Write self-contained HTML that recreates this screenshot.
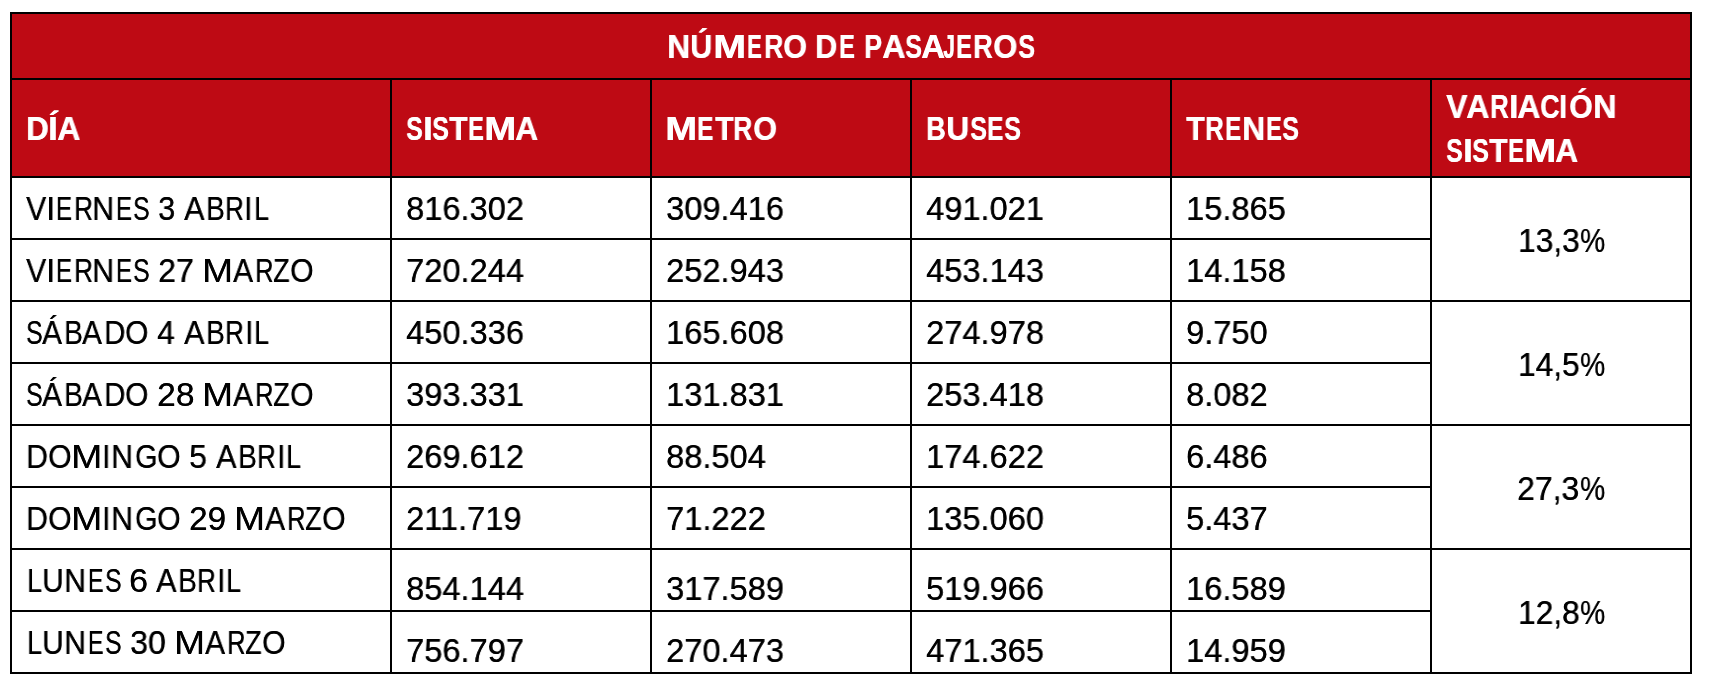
<!DOCTYPE html><html lang="es"><head><meta charset="utf-8"><title>Número de pasajeros</title><style>

html,body{margin:0;padding:0;background:#fff;}
body{width:1710px;height:686px;position:relative;overflow:hidden;font-family:"Liberation Sans",sans-serif;}
.r{position:absolute;background:#BE0A14;}
.l{position:absolute;background:#000;}
.t{position:absolute;height:80px;line-height:80px;white-space:nowrap;transform-origin:0 0;will-change:transform;}
.b{font-size:33.0px;font-weight:700;color:#fff;text-shadow:0.4px 0 0 #fff;}
.n{font-size:33.0px;font-weight:400;color:#000;text-shadow:0.3px 0 0 #000;}

</style></head><body>
<div class="r" style="left:10px;top:12px;width:1682px;height:166px"></div>
<div class="l" style="left:10px;top:12px;width:1682px;height:2px"></div>
<div class="l" style="left:10px;top:78px;width:1682px;height:2px"></div>
<div class="l" style="left:10px;top:176px;width:1682px;height:2px"></div>
<div class="l" style="left:10px;top:300px;width:1682px;height:2px"></div>
<div class="l" style="left:10px;top:424px;width:1682px;height:2px"></div>
<div class="l" style="left:10px;top:548px;width:1682px;height:2px"></div>
<div class="l" style="left:10px;top:672px;width:1682px;height:2px"></div>
<div class="l" style="left:10px;top:238px;width:1422px;height:2px"></div>
<div class="l" style="left:10px;top:362px;width:1422px;height:2px"></div>
<div class="l" style="left:10px;top:486px;width:1422px;height:2px"></div>
<div class="l" style="left:10px;top:610px;width:1422px;height:2px"></div>
<div class="l" style="left:10px;top:12px;width:2px;height:662px"></div>
<div class="l" style="left:1690px;top:12px;width:2px;height:662px"></div>
<div class="l" style="left:390px;top:78px;width:2px;height:596px"></div>
<div class="l" style="left:650px;top:78px;width:2px;height:596px"></div>
<div class="l" style="left:910px;top:78px;width:2px;height:596px"></div>
<div class="l" style="left:1170px;top:78px;width:2px;height:596px"></div>
<div class="l" style="left:1430px;top:78px;width:2px;height:596px"></div>
<div class="t b" style="left:666.85px;top:7.0px;transform:scaleX(0.9632)">N</div>
<div class="t b" style="left:690.37px;top:7.0px;transform:scaleX(0.9256)">Ú</div>
<div class="t b" style="left:712.85px;top:7.0px;transform:scaleX(1.1962)">M</div>
<div class="t b" style="left:746.87px;top:7.0px;transform:scaleX(0.6685)">E</div>
<div class="t b" style="left:763.69px;top:7.0px;transform:scaleX(0.801)">R</div>
<div class="t b" style="left:783.11px;top:7.0px;transform:scaleX(0.9256)">O</div>
<div class="t b" style="left:815.03px;top:7.0px;transform:scaleX(0.9228)">D</div>
<div class="t b" style="left:838.79px;top:7.0px;transform:scaleX(0.7103)">E</div>
<div class="t b" style="left:864.36px;top:7.0px;transform:scaleX(0.8163)">P</div>
<div class="t b" style="left:881.83px;top:7.0px;transform:scaleX(0.9783)">A</div>
<div class="t b" style="left:904.77px;top:7.0px;transform:scaleX(0.7644)">S</div>
<div class="t b" style="left:920.83px;top:7.0px;transform:scaleX(0.9828)">A</div>
<div class="t b" style="left:942.97px;top:7.0px;transform:scaleX(0.6436)">J</div>
<div class="t b" style="left:955.77px;top:7.0px;transform:scaleX(0.7155)">E</div>
<div class="t b" style="left:973.35px;top:7.0px;transform:scaleX(0.8197)">R</div>
<div class="t b" style="left:992.89px;top:7.0px;transform:scaleX(0.9383)">O</div>
<div class="t b" style="left:1017.86px;top:7.0px;transform:scaleX(0.7694)">S</div>
<div class="t b" style="left:26.04px;top:89.0px;transform:scaleX(0.9444)">D</div>
<div class="t b" style="left:48.0px;top:89.0px;transform:scaleX(1.0326)">Í</div>
<div class="t b" style="left:57.14px;top:89.0px;transform:scaleX(0.9739)">A</div>
<div class="t b" style="left:405.99px;top:89.0px;transform:scaleX(0.7495)">S</div>
<div class="t b" style="left:422.8px;top:89.0px;transform:scaleX(1.0326)">I</div>
<div class="t b" style="left:432.07px;top:89.0px;transform:scaleX(0.7595)">S</div>
<div class="t b" style="left:448.84px;top:89.0px;transform:scaleX(0.9161)">T</div>
<div class="t b" style="left:467.79px;top:89.0px;transform:scaleX(0.7103)">E</div>
<div class="t b" style="left:484.32px;top:89.0px;transform:scaleX(1.1626)">M</div>
<div class="t b" style="left:515.25px;top:89.0px;transform:scaleX(0.9605)">A</div>
<div class="t b" style="left:665.43px;top:89.0px;transform:scaleX(1.1584)">M</div>
<div class="t b" style="left:697.43px;top:89.0px;transform:scaleX(0.7364)">E</div>
<div class="t b" style="left:714.54px;top:89.0px;transform:scaleX(0.9161)">T</div>
<div class="t b" style="left:732.89px;top:89.0px;transform:scaleX(0.801)">R</div>
<div class="t b" style="left:753.11px;top:89.0px;transform:scaleX(0.9256)">O</div>
<div class="t b" style="left:926.15px;top:89.0px;transform:scaleX(0.8211)">B</div>
<div class="t b" style="left:946.19px;top:89.0px;transform:scaleX(0.9648)">U</div>
<div class="t b" style="left:969.57px;top:89.0px;transform:scaleX(0.7644)">S</div>
<div class="t b" style="left:986.83px;top:89.0px;transform:scaleX(0.7364)">E</div>
<div class="t b" style="left:1003.77px;top:89.0px;transform:scaleX(0.7644)">S</div>
<div class="t b" style="left:1185.73px;top:89.0px;transform:scaleX(0.9261)">T</div>
<div class="t b" style="left:1204.63px;top:89.0px;transform:scaleX(0.7822)">R</div>
<div class="t b" style="left:1224.54px;top:89.0px;transform:scaleX(0.7312)">E</div>
<div class="t b" style="left:1241.55px;top:89.0px;transform:scaleX(0.9632)">N</div>
<div class="t b" style="left:1265.79px;top:89.0px;transform:scaleX(0.7103)">E</div>
<div class="t b" style="left:1281.77px;top:89.0px;transform:scaleX(0.7644)">S</div>
<div class="t b" style="left:1445.55px;top:67.0px;transform:scaleX(0.9675)">V</div>
<div class="t b" style="left:1466.04px;top:67.0px;transform:scaleX(0.9739)">A</div>
<div class="t b" style="left:1489.54px;top:67.0px;transform:scaleX(0.7776)">R</div>
<div class="t b" style="left:1508.68px;top:67.0px;transform:scaleX(0.9963)">I</div>
<div class="t b" style="left:1516.84px;top:67.0px;transform:scaleX(0.9739)">A</div>
<div class="t b" style="left:1540.35px;top:67.0px;transform:scaleX(0.8126)">C</div>
<div class="t b" style="left:1559.49px;top:67.0px;transform:scaleX(0.8514)">I</div>
<div class="t b" style="left:1569.22px;top:67.0px;transform:scaleX(0.913)">Ó</div>
<div class="t b" style="left:1593.11px;top:67.0px;transform:scaleX(0.9782)">N</div>
<div class="t b" style="left:1445.99px;top:111.0px;transform:scaleX(0.7495)">S</div>
<div class="t b" style="left:1462.8px;top:111.0px;transform:scaleX(1.0326)">I</div>
<div class="t b" style="left:1472.07px;top:111.0px;transform:scaleX(0.7595)">S</div>
<div class="t b" style="left:1488.84px;top:111.0px;transform:scaleX(0.9161)">T</div>
<div class="t b" style="left:1507.79px;top:111.0px;transform:scaleX(0.7103)">E</div>
<div class="t b" style="left:1524.32px;top:111.0px;transform:scaleX(1.1626)">M</div>
<div class="t b" style="left:1555.25px;top:111.0px;transform:scaleX(0.9605)">A</div>
<div class="t n" style="left:26.02px;top:169.0px;transform:scaleX(0.9143)">V</div>
<div class="t n" style="left:45.86px;top:169.0px;transform:scaleX(0.9889)">I</div>
<div class="t n" style="left:55.72px;top:169.0px;transform:scaleX(0.7264)">E</div>
<div class="t n" style="left:73.85px;top:169.0px;transform:scaleX(0.792)">R</div>
<div class="t n" style="left:92.49px;top:169.0px;transform:scaleX(0.9238)">N</div>
<div class="t n" style="left:115.82px;top:169.0px;transform:scaleX(0.7264)">E</div>
<div class="t n" style="left:132.81px;top:169.0px;transform:scaleX(0.7534)">S</div>
<div class="t n" style="left:158.25px;top:169.0px;transform:scaleX(0.9313)">3</div>
<div class="t n" style="left:184.1px;top:169.0px;transform:scaleX(0.9264)">A</div>
<div class="t n" style="left:205.7px;top:169.0px;transform:scaleX(0.8469)">B</div>
<div class="t n" style="left:224.86px;top:169.0px;transform:scaleX(0.787)">R</div>
<div class="t n" style="left:244.4px;top:169.0px;transform:scaleX(0.9064)">I</div>
<div class="t n" style="left:253.8px;top:169.0px;transform:scaleX(0.8095)">L</div>
<div class="t n" style="left:405.81px;top:169.0px;transform:scaleX(0.9874)">816.302</div>
<div class="t n" style="left:665.81px;top:169.0px;transform:scaleX(0.9874)">309.416</div>
<div class="t n" style="left:925.81px;top:169.0px;transform:scaleX(0.9874)">491.021</div>
<div class="t n" style="left:1185.81px;top:169.0px;transform:scaleX(0.9874)">15.865</div>
<div class="t n" style="left:26.02px;top:231.0px;transform:scaleX(0.9143)">V</div>
<div class="t n" style="left:45.86px;top:231.0px;transform:scaleX(0.9889)">I</div>
<div class="t n" style="left:55.72px;top:231.0px;transform:scaleX(0.7264)">E</div>
<div class="t n" style="left:73.85px;top:231.0px;transform:scaleX(0.792)">R</div>
<div class="t n" style="left:92.49px;top:231.0px;transform:scaleX(0.9238)">N</div>
<div class="t n" style="left:115.82px;top:231.0px;transform:scaleX(0.7264)">E</div>
<div class="t n" style="left:132.81px;top:231.0px;transform:scaleX(0.7534)">S</div>
<div class="t n" style="left:158.12px;top:231.0px;transform:scaleX(0.9737)">27</div>
<div class="t n" style="left:201.74px;top:231.0px;transform:scaleX(1.1237)">M</div>
<div class="t n" style="left:233.2px;top:231.0px;transform:scaleX(0.9083)">A</div>
<div class="t n" style="left:254.89px;top:231.0px;transform:scaleX(0.7768)">R</div>
<div class="t n" style="left:273.0px;top:231.0px;transform:scaleX(0.8208)">Z</div>
<div class="t n" style="left:289.82px;top:231.0px;transform:scaleX(0.9159)">O</div>
<div class="t n" style="left:405.81px;top:231.0px;transform:scaleX(0.9874)">720.244</div>
<div class="t n" style="left:665.81px;top:231.0px;transform:scaleX(0.9874)">252.943</div>
<div class="t n" style="left:925.81px;top:231.0px;transform:scaleX(0.9874)">453.143</div>
<div class="t n" style="left:1185.81px;top:231.0px;transform:scaleX(0.9874)">14.158</div>
<div class="t n" style="left:25.61px;top:293.0px;transform:scaleX(0.7534)">S</div>
<div class="t n" style="left:42.3px;top:293.0px;transform:scaleX(0.9037)">Á</div>
<div class="t n" style="left:63.58px;top:293.0px;transform:scaleX(0.8524)">B</div>
<div class="t n" style="left:82.3px;top:293.0px;transform:scaleX(0.8992)">A</div>
<div class="t n" style="left:103.57px;top:293.0px;transform:scaleX(0.8926)">D</div>
<div class="t n" style="left:125.13px;top:293.0px;transform:scaleX(0.9072)">O</div>
<div class="t n" style="left:156.85px;top:293.0px;transform:scaleX(0.9636)">4</div>
<div class="t n" style="left:184.2px;top:293.0px;transform:scaleX(0.9264)">A</div>
<div class="t n" style="left:205.8px;top:293.0px;transform:scaleX(0.8469)">B</div>
<div class="t n" style="left:224.96px;top:293.0px;transform:scaleX(0.787)">R</div>
<div class="t n" style="left:244.5px;top:293.0px;transform:scaleX(0.9064)">I</div>
<div class="t n" style="left:253.9px;top:293.0px;transform:scaleX(0.8095)">L</div>
<div class="t n" style="left:405.81px;top:293.0px;transform:scaleX(0.9874)">450.336</div>
<div class="t n" style="left:665.81px;top:293.0px;transform:scaleX(0.9874)">165.608</div>
<div class="t n" style="left:925.81px;top:293.0px;transform:scaleX(0.9874)">274.978</div>
<div class="t n" style="left:1185.81px;top:293.0px;transform:scaleX(0.9874)">9.750</div>
<div class="t n" style="left:25.61px;top:355.0px;transform:scaleX(0.7534)">S</div>
<div class="t n" style="left:42.3px;top:355.0px;transform:scaleX(0.9037)">Á</div>
<div class="t n" style="left:63.58px;top:355.0px;transform:scaleX(0.8524)">B</div>
<div class="t n" style="left:82.3px;top:355.0px;transform:scaleX(0.8992)">A</div>
<div class="t n" style="left:103.57px;top:355.0px;transform:scaleX(0.8926)">D</div>
<div class="t n" style="left:125.13px;top:355.0px;transform:scaleX(0.9072)">O</div>
<div class="t n" style="left:156.95px;top:355.0px;transform:scaleX(1.0165)">28</div>
<div class="t n" style="left:201.74px;top:355.0px;transform:scaleX(1.1237)">M</div>
<div class="t n" style="left:233.2px;top:355.0px;transform:scaleX(0.9083)">A</div>
<div class="t n" style="left:254.89px;top:355.0px;transform:scaleX(0.7768)">R</div>
<div class="t n" style="left:273.0px;top:355.0px;transform:scaleX(0.8208)">Z</div>
<div class="t n" style="left:289.82px;top:355.0px;transform:scaleX(0.9159)">O</div>
<div class="t n" style="left:405.81px;top:355.0px;transform:scaleX(0.9874)">393.331</div>
<div class="t n" style="left:665.81px;top:355.0px;transform:scaleX(0.9874)">131.831</div>
<div class="t n" style="left:925.81px;top:355.0px;transform:scaleX(0.9874)">253.418</div>
<div class="t n" style="left:1185.81px;top:355.0px;transform:scaleX(0.9874)">8.082</div>
<div class="t n" style="left:26.0px;top:417.0px;transform:scaleX(0.9175)">D</div>
<div class="t n" style="left:47.92px;top:417.0px;transform:scaleX(0.9159)">O</div>
<div class="t n" style="left:70.72px;top:417.0px;transform:scaleX(1.1326)">M</div>
<div class="t n" style="left:102.3px;top:417.0px;transform:scaleX(0.9064)">I</div>
<div class="t n" style="left:111.4px;top:417.0px;transform:scaleX(0.9186)">N</div>
<div class="t n" style="left:134.65px;top:417.0px;transform:scaleX(0.8701)">G</div>
<div class="t n" style="left:156.82px;top:417.0px;transform:scaleX(0.9159)">O</div>
<div class="t n" style="left:188.87px;top:417.0px;transform:scaleX(0.9707)">5</div>
<div class="t n" style="left:216.3px;top:417.0px;transform:scaleX(0.9264)">A</div>
<div class="t n" style="left:237.9px;top:417.0px;transform:scaleX(0.8469)">B</div>
<div class="t n" style="left:257.06px;top:417.0px;transform:scaleX(0.787)">R</div>
<div class="t n" style="left:276.6px;top:417.0px;transform:scaleX(0.9064)">I</div>
<div class="t n" style="left:286.0px;top:417.0px;transform:scaleX(0.8095)">L</div>
<div class="t n" style="left:405.81px;top:417.0px;transform:scaleX(0.9874)">269.612</div>
<div class="t n" style="left:665.81px;top:417.0px;transform:scaleX(0.9874)">88.504</div>
<div class="t n" style="left:925.81px;top:417.0px;transform:scaleX(0.9874)">174.622</div>
<div class="t n" style="left:1185.81px;top:417.0px;transform:scaleX(0.9874)">6.486</div>
<div class="t n" style="left:26.0px;top:479.0px;transform:scaleX(0.9175)">D</div>
<div class="t n" style="left:47.92px;top:479.0px;transform:scaleX(0.9159)">O</div>
<div class="t n" style="left:70.72px;top:479.0px;transform:scaleX(1.1326)">M</div>
<div class="t n" style="left:102.3px;top:479.0px;transform:scaleX(0.9064)">I</div>
<div class="t n" style="left:111.4px;top:479.0px;transform:scaleX(0.9186)">N</div>
<div class="t n" style="left:134.65px;top:479.0px;transform:scaleX(0.8701)">G</div>
<div class="t n" style="left:156.82px;top:479.0px;transform:scaleX(0.9159)">O</div>
<div class="t n" style="left:189.07px;top:479.0px;transform:scaleX(1.008)">29</div>
<div class="t n" style="left:233.84px;top:479.0px;transform:scaleX(1.1237)">M</div>
<div class="t n" style="left:265.3px;top:479.0px;transform:scaleX(0.9083)">A</div>
<div class="t n" style="left:286.99px;top:479.0px;transform:scaleX(0.7768)">R</div>
<div class="t n" style="left:305.1px;top:479.0px;transform:scaleX(0.8208)">Z</div>
<div class="t n" style="left:321.92px;top:479.0px;transform:scaleX(0.9159)">O</div>
<div class="t n" style="left:405.81px;top:479.0px;transform:scaleX(0.9874)">211.719</div>
<div class="t n" style="left:665.81px;top:479.0px;transform:scaleX(0.9874)">71.222</div>
<div class="t n" style="left:925.81px;top:479.0px;transform:scaleX(0.9874)">135.060</div>
<div class="t n" style="left:1185.81px;top:479.0px;transform:scaleX(0.9874)">5.437</div>
<div class="t n" style="left:26.6px;top:541.0px;transform:scaleX(0.8095)">L</div>
<div class="t n" style="left:41.68px;top:541.0px;transform:scaleX(0.9082)">U</div>
<div class="t n" style="left:64.4px;top:541.0px;transform:scaleX(0.9186)">N</div>
<div class="t n" style="left:88.0px;top:541.0px;transform:scaleX(0.6991)">E</div>
<div class="t n" style="left:104.72px;top:541.0px;transform:scaleX(0.7482)">S</div>
<div class="t n" style="left:128.65px;top:541.0px;transform:scaleX(1.0298)">6</div>
<div class="t n" style="left:156.4px;top:541.0px;transform:scaleX(0.9264)">A</div>
<div class="t n" style="left:178.0px;top:541.0px;transform:scaleX(0.8469)">B</div>
<div class="t n" style="left:197.16px;top:541.0px;transform:scaleX(0.787)">R</div>
<div class="t n" style="left:216.7px;top:541.0px;transform:scaleX(0.9064)">I</div>
<div class="t n" style="left:226.1px;top:541.0px;transform:scaleX(0.8095)">L</div>
<div class="t n" style="left:405.81px;top:549.0px;transform:scaleX(0.9874)">854.144</div>
<div class="t n" style="left:665.81px;top:549.0px;transform:scaleX(0.9874)">317.589</div>
<div class="t n" style="left:925.81px;top:549.0px;transform:scaleX(0.9874)">519.966</div>
<div class="t n" style="left:1185.81px;top:549.0px;transform:scaleX(0.9874)">16.589</div>
<div class="t n" style="left:26.6px;top:603.0px;transform:scaleX(0.8095)">L</div>
<div class="t n" style="left:41.68px;top:603.0px;transform:scaleX(0.9082)">U</div>
<div class="t n" style="left:64.4px;top:603.0px;transform:scaleX(0.9186)">N</div>
<div class="t n" style="left:88.0px;top:603.0px;transform:scaleX(0.6991)">E</div>
<div class="t n" style="left:104.72px;top:603.0px;transform:scaleX(0.7482)">S</div>
<div class="t n" style="left:129.5px;top:603.0px;transform:scaleX(0.9735)">30</div>
<div class="t n" style="left:173.84px;top:603.0px;transform:scaleX(1.1237)">M</div>
<div class="t n" style="left:205.3px;top:603.0px;transform:scaleX(0.9083)">A</div>
<div class="t n" style="left:226.99px;top:603.0px;transform:scaleX(0.7768)">R</div>
<div class="t n" style="left:245.1px;top:603.0px;transform:scaleX(0.8208)">Z</div>
<div class="t n" style="left:261.92px;top:603.0px;transform:scaleX(0.9159)">O</div>
<div class="t n" style="left:405.81px;top:611.0px;transform:scaleX(0.9874)">756.797</div>
<div class="t n" style="left:665.81px;top:611.0px;transform:scaleX(0.9874)">270.473</div>
<div class="t n" style="left:925.81px;top:611.0px;transform:scaleX(0.9874)">471.365</div>
<div class="t n" style="left:1185.81px;top:611.0px;transform:scaleX(0.9874)">14.959</div>
<div class="t n" style="left:1517.51px;top:201.0px;transform:scaleX(0.9591)">13,3</div>
<div class="t n" style="left:1580.28px;top:201.0px;transform:scaleX(0.855)">%</div>
<div class="t n" style="left:1517.51px;top:325.0px;transform:scaleX(0.9577)">14,5</div>
<div class="t n" style="left:1580.28px;top:325.0px;transform:scaleX(0.855)">%</div>
<div class="t n" style="left:1517.03px;top:449.0px;transform:scaleX(0.9666)">27,3</div>
<div class="t n" style="left:1580.28px;top:449.0px;transform:scaleX(0.855)">%</div>
<div class="t n" style="left:1517.51px;top:573.0px;transform:scaleX(0.9585)">12,8</div>
<div class="t n" style="left:1580.28px;top:573.0px;transform:scaleX(0.855)">%</div>
</body></html>
